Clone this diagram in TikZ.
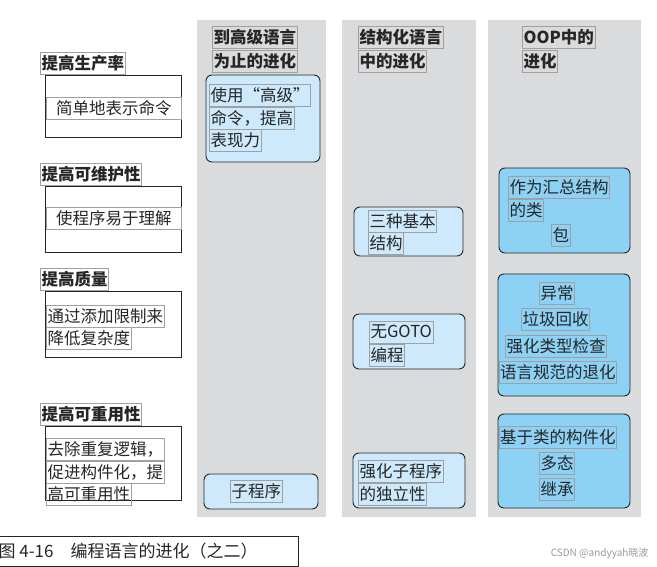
\documentclass[tikz,border=0pt]{standalone}
\usepackage{fontspec}
\newfontfamily\cjk{Noto Sans CJK SC}
\definecolor{colbg}{HTML}{DADBDD}
\definecolor{lb}{HTML}{CDE9FB}
\definecolor{db}{HTML}{8DD1F5}
\definecolor{ocr}{HTML}{A0A0A0}
\begin{document}
\begin{tikzpicture}[x=1pt,y=-1pt,
  txt/.style={draw=ocr,line width=0.8pt,inner sep=1.2pt,font=\cjk\fontsize{16.5}{18}\selectfont,text=black!85,anchor=west,minimum height=22pt},
  hd/.style={txt,font=\cjk\bfseries\fontsize{16.5}{18}\selectfont},
  lbox/.style={draw=black!85,line width=0.9pt,rounded corners=6pt,fill=lb},
  dbox/.style={draw=black!85,line width=0.9pt,rounded corners=6pt,fill=db},
  wbox/.style={draw=black!85,line width=0.9pt}]
\useasboundingbox (0,0) rectangle (657,567);
% columns
\fill[colbg] (197,20) rectangle (326,517);
\fill[colbg] (342,20) rectangle (476,517);
\fill[colbg] (488,20) rectangle (641,517);
\node[hd] (h1a) at (212,37.5) {到高级语言};
\node[hd] (h1b) at (212,61) {为止的进化};
\node[hd] (h2a) at (358,37.5) {结构化语言};
\node[hd] (h2b) at (358,61) {中的进化};
\node[hd] (h3a) at (522,37.5) {OOP中的};
\node[hd] (h3b) at (522,61) {进化};
% left side
\node[hd] (l1) at (40,63) {提高生产率};
\draw[wbox] (45,75) rectangle (181,137);
\node[txt,minimum width=135pt] (t1) at (46,108) {简单地表示命令};
\node[hd] (l2) at (40,174) {提高可维护性};
\draw[wbox] (45,186) rectangle (181,252);
\node[txt,minimum width=135pt] (t2) at (46,218) {使程序易于理解};
\node[hd] (l3) at (40,279) {提高质量};
\draw[wbox] (45,291) rectangle (181,357);
\node[txt] (t3a) at (46,316) {通过添加限制来};
\node[txt] (t3b) at (46,338) {降低复杂度};
\node[hd] (l4) at (40,414) {提高可重用性};
\draw[wbox] (45,426) rectangle (181,500);
\node[txt] (t4a) at (46,449) {去除重复逻辑，};
\node[txt] (t4b) at (46,472) {促进构件化，提};
\node[txt] (t4c) at (46,494) {高可重用性};
% column 1
\draw[lbox] (206,75) rectangle (320,162);
\node[txt] (c1a) at (209,95) {使用“高级”};
\node[txt] (c1b) at (209,118) {命令，提高};
\node[txt] (c1c) at (209,140) {表现力};
\draw[lbox] (204,474) rectangle (318,509);
\node[txt] (c1d) at (230,491) {子程序};
% column 2
\draw[lbox] (354,207) rectangle (463,256);
\node[txt] (c2a) at (368,221) {三种基本};
\node[txt] (c2b) at (368,243) {结构};
\draw[lbox] (353,314) rectangle (465,369);
\node[txt] (c2c) at (369,332) {无GOTO};
\node[txt] (c2d) at (369,355) {编程};
\draw[lbox] (353,453) rectangle (465,508);
\node[txt] (c2e) at (358,471) {强化子程序};
\node[txt] (c2f) at (358,494) {的独立性};
% column 3
\draw[dbox] (499,168) rectangle (630,253);
\node[txt] (c3a) at (508,187) {作为汇总结构};
\node[txt] (c3b) at (508,210) {的类};
\node[txt] (c3c) at (551,235) {包};
\draw[dbox] (498,274) rectangle (630,396);
\node[txt] (c3d) at (539,293) {异常};
\node[txt] (c3e) at (521,319) {垃圾回收};
\node[txt] (c3f) at (505,346) {强化类型检查};
\node[txt] (c3g) at (498.5,372) {语言规范的退化};
\draw[dbox] (498,414) rectangle (630,508);
\node[txt] (c3h) at (498.5,437) {基于类的构件化};
\node[txt] (c3i) at (539,463) {多态};
\node[txt] (c3j) at (539,489) {继承};
% caption
\draw[black!85,line width=0.9pt] (-2,536) rectangle (298,566);
\node[anchor=west,font=\cjk\fontsize{17}{19}\selectfont,text=black!85] (cap) at (-5,551) {图 4-16\quad 编程语言的进化（之二）};
\node[anchor=east,font=\cjk\fontsize{10}{12}\selectfont,text=black!40] (wm) at (652,553) {CSDN @andyyah晓波};
\end{tikzpicture}
\end{document}
